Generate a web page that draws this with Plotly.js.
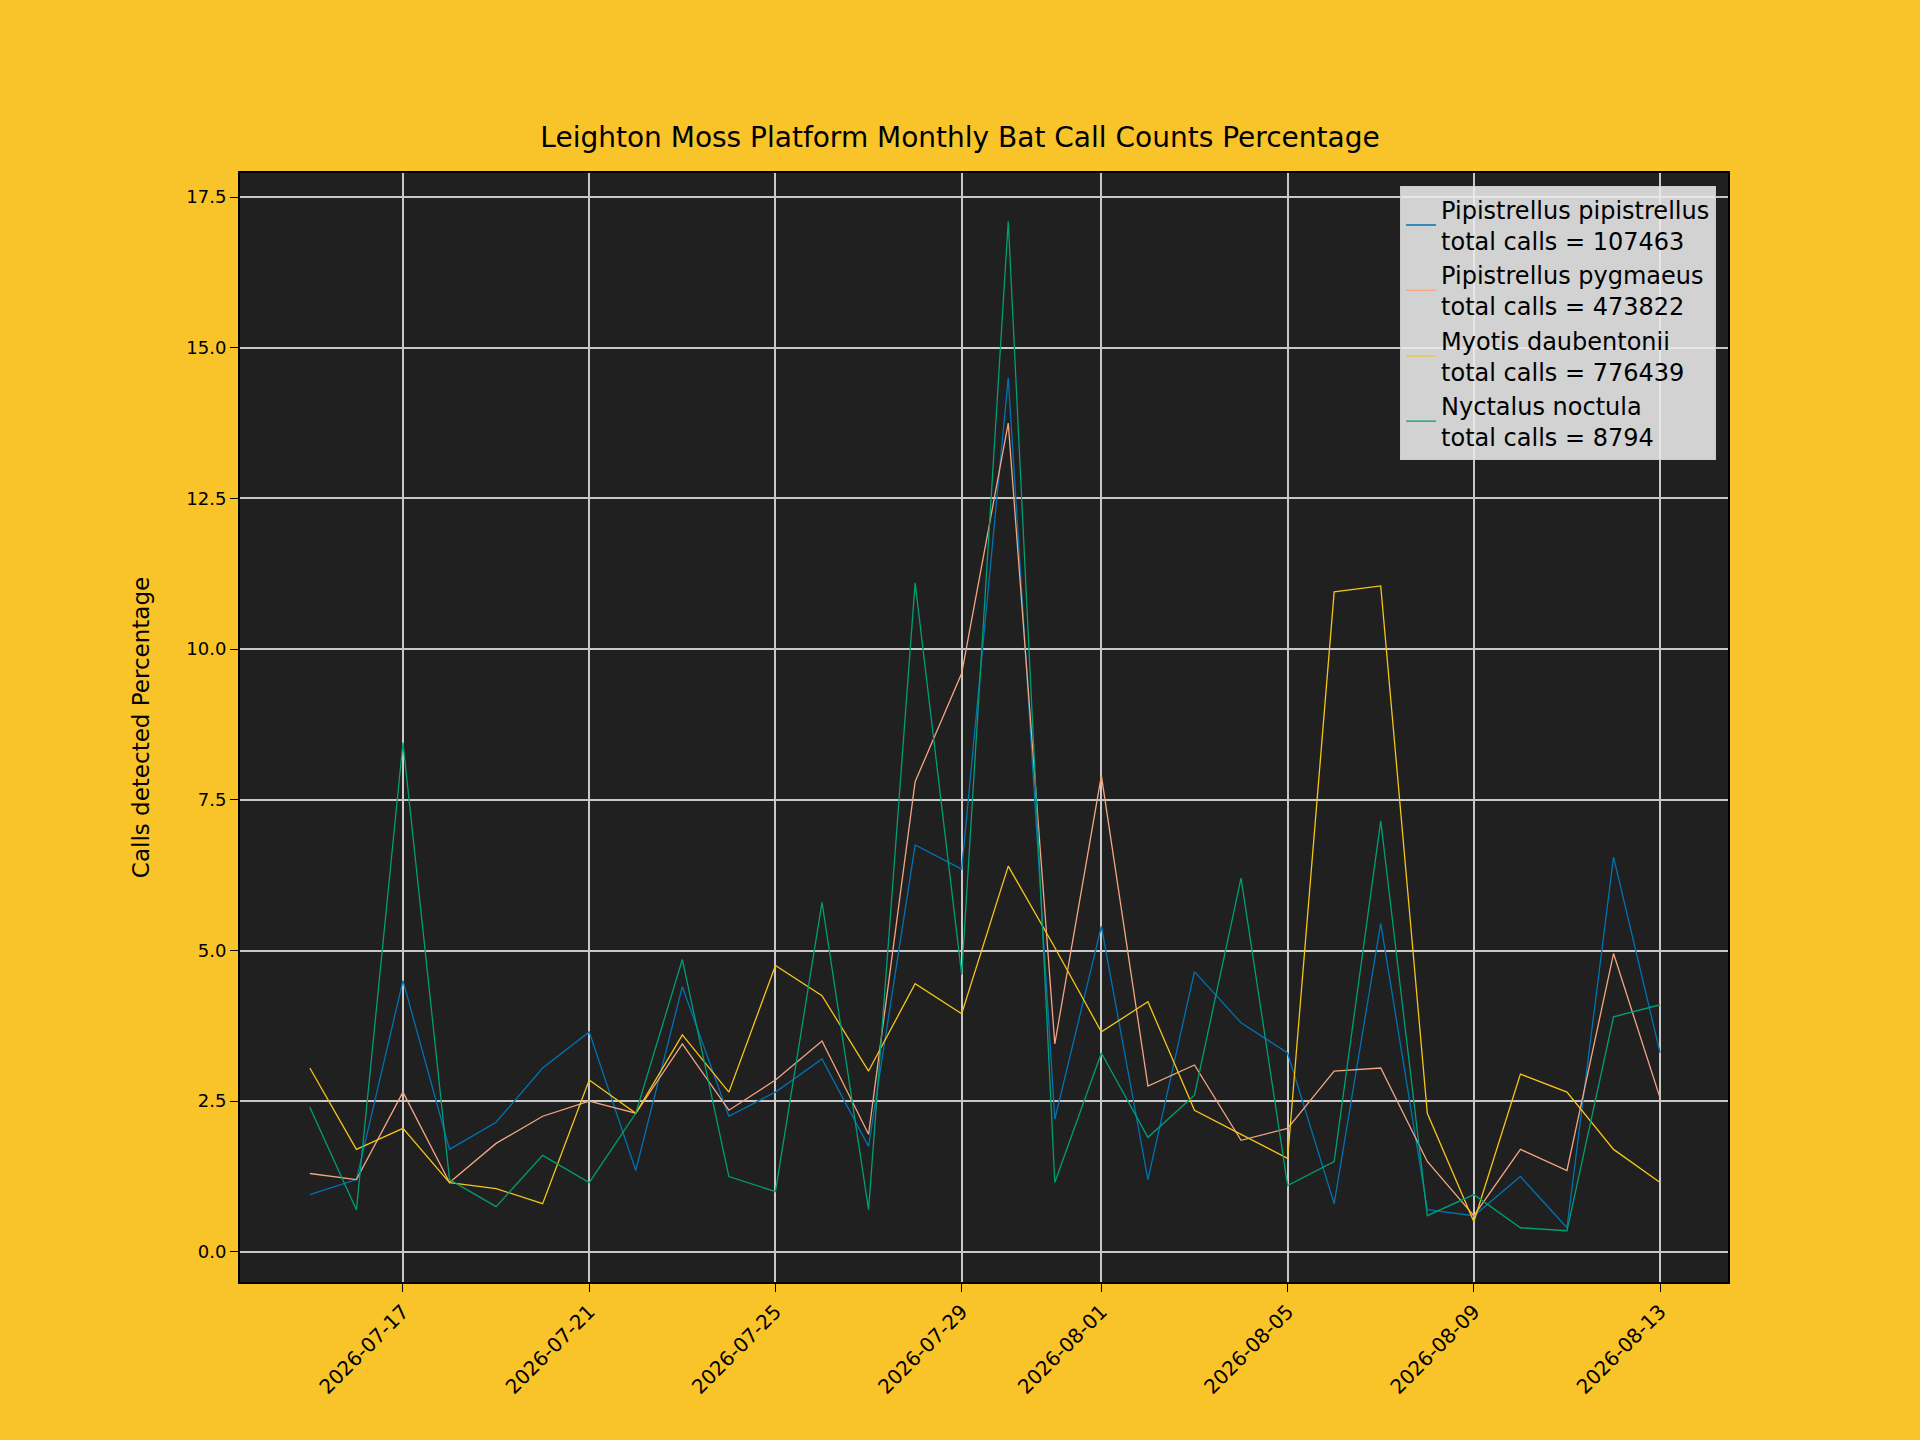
<!DOCTYPE html>
<html><head><meta charset="utf-8">
<script src="https://cdn.plot.ly/plotly-3.0.1.min.js"></script>
<style>body{margin:0;background:#F9C429}</style></head>
<body><div id="c" style="width:1920px;height:1440px"></div>
<script>
const dates = [];
for (let i = 0; i < 30; i++) { const d = new Date(Date.UTC(2026,6,15+i)); dates.push(d.toISOString().slice(0,10)); }
const pipistrellus = [0.95,1.2,4.5,1.7,2.15,3.05,3.65,1.35,4.4,2.25,2.65,3.2,1.75,6.75,6.35,14.5,2.2,5.4,1.2,4.65,3.8,3.3,0.8,5.45,0.7,0.6,1.25,0.4,6.55,3.3];
const pygmaeus = [1.3,1.2,2.65,1.15,1.8,2.25,2.5,2.3,3.45,2.35,2.85,3.5,1.95,7.8,9.6,13.75,3.45,7.9,2.75,3.1,1.85,2.05,3.0,3.05,1.5,0.6,1.7,1.35,4.95,2.55];
const daubentonii = [3.05,1.7,2.05,1.15,1.05,0.8,2.85,2.3,3.6,2.65,4.75,4.25,3.0,4.45,3.95,6.4,5.05,3.65,4.15,2.35,1.95,1.55,10.95,11.05,2.3,0.5,2.95,2.65,1.7,1.15];
const noctula = [2.4,0.7,8.45,1.2,0.75,1.6,1.15,2.3,4.85,1.25,1.0,5.8,0.7,11.1,4.6,17.1,1.15,3.3,1.9,2.6,6.2,1.1,1.5,7.15,0.6,0.95,0.4,0.35,3.9,4.1];
const names = ["Pipistrellus pipistrellus<br>total calls = 107463","Pipistrellus pygmaeus<br>total calls = 473822","Myotis daubentonii<br>total calls = 776439","Nyctalus noctula<br>total calls = 8794"];
const colors = ["#0072B2","#F4A582","#F5C518","#009E73"];
const tickDates = ["2026-07-17","2026-07-21","2026-07-25","2026-07-29","2026-08-01","2026-08-05","2026-08-09","2026-08-13"];
const series=[pipistrellus,pygmaeus,daubentonii,noctula];
const traces = series.map((s,i)=>({x:dates,y:s,type:'scatter',mode:'lines',name:names[i],line:{color:colors[i],width:1.3}}));
const font={family:'DejaVu Sans',color:'#000'};
Plotly.newPlot('c',traces,{
 width:1920,height:1440,paper_bgcolor:'#F9C429',plot_bgcolor:'#202020',
 margin:{l:240,r:192,t:173,b:158},
 title:{text:'Leighton Moss Platform Monthly Bat Call Counts Percentage',font:{...font,size:28},x:0.5,xanchor:'center',y:0.905,yanchor:'middle'},
 xaxis:{type:'date',range:['2026-07-13 12:00','2026-08-14 11:00'],tickvals:tickDates,ticktext:tickDates,tickangle:-45,
   ticks:'outside',ticklen:8,tickcolor:'#000',showgrid:true,gridcolor:'#c8c8c8',gridwidth:2,zeroline:false,
   showline:true,linecolor:'#000',linewidth:2,mirror:true,tickfont:{...font,size:20}},
 yaxis:{range:[-0.5,17.9],tickvals:[0,2.5,5,7.5,10,12.5,15,17.5],ticktext:['0.0','2.5','5.0','7.5','10.0','12.5','15.0','17.5'],
   ticks:'outside',ticklen:8,tickcolor:'#000',showgrid:true,gridcolor:'#c8c8c8',gridwidth:2,zeroline:false,
   showline:true,linecolor:'#000',linewidth:2,mirror:true,tickfont:{...font,size:18},
   title:{text:'Calls detected Percentage',font:{...font,size:23},standoff:30}},
 legend:{x:0.992,y:0.988,xanchor:'right',yanchor:'top',bgcolor:'rgba(235,235,235,0.88)',bordercolor:'#ccc',borderwidth:1,font:{...font,size:24},tracegroupgap:12},
 showlegend:true
},{displayModeBar:false});
</script></body></html>
